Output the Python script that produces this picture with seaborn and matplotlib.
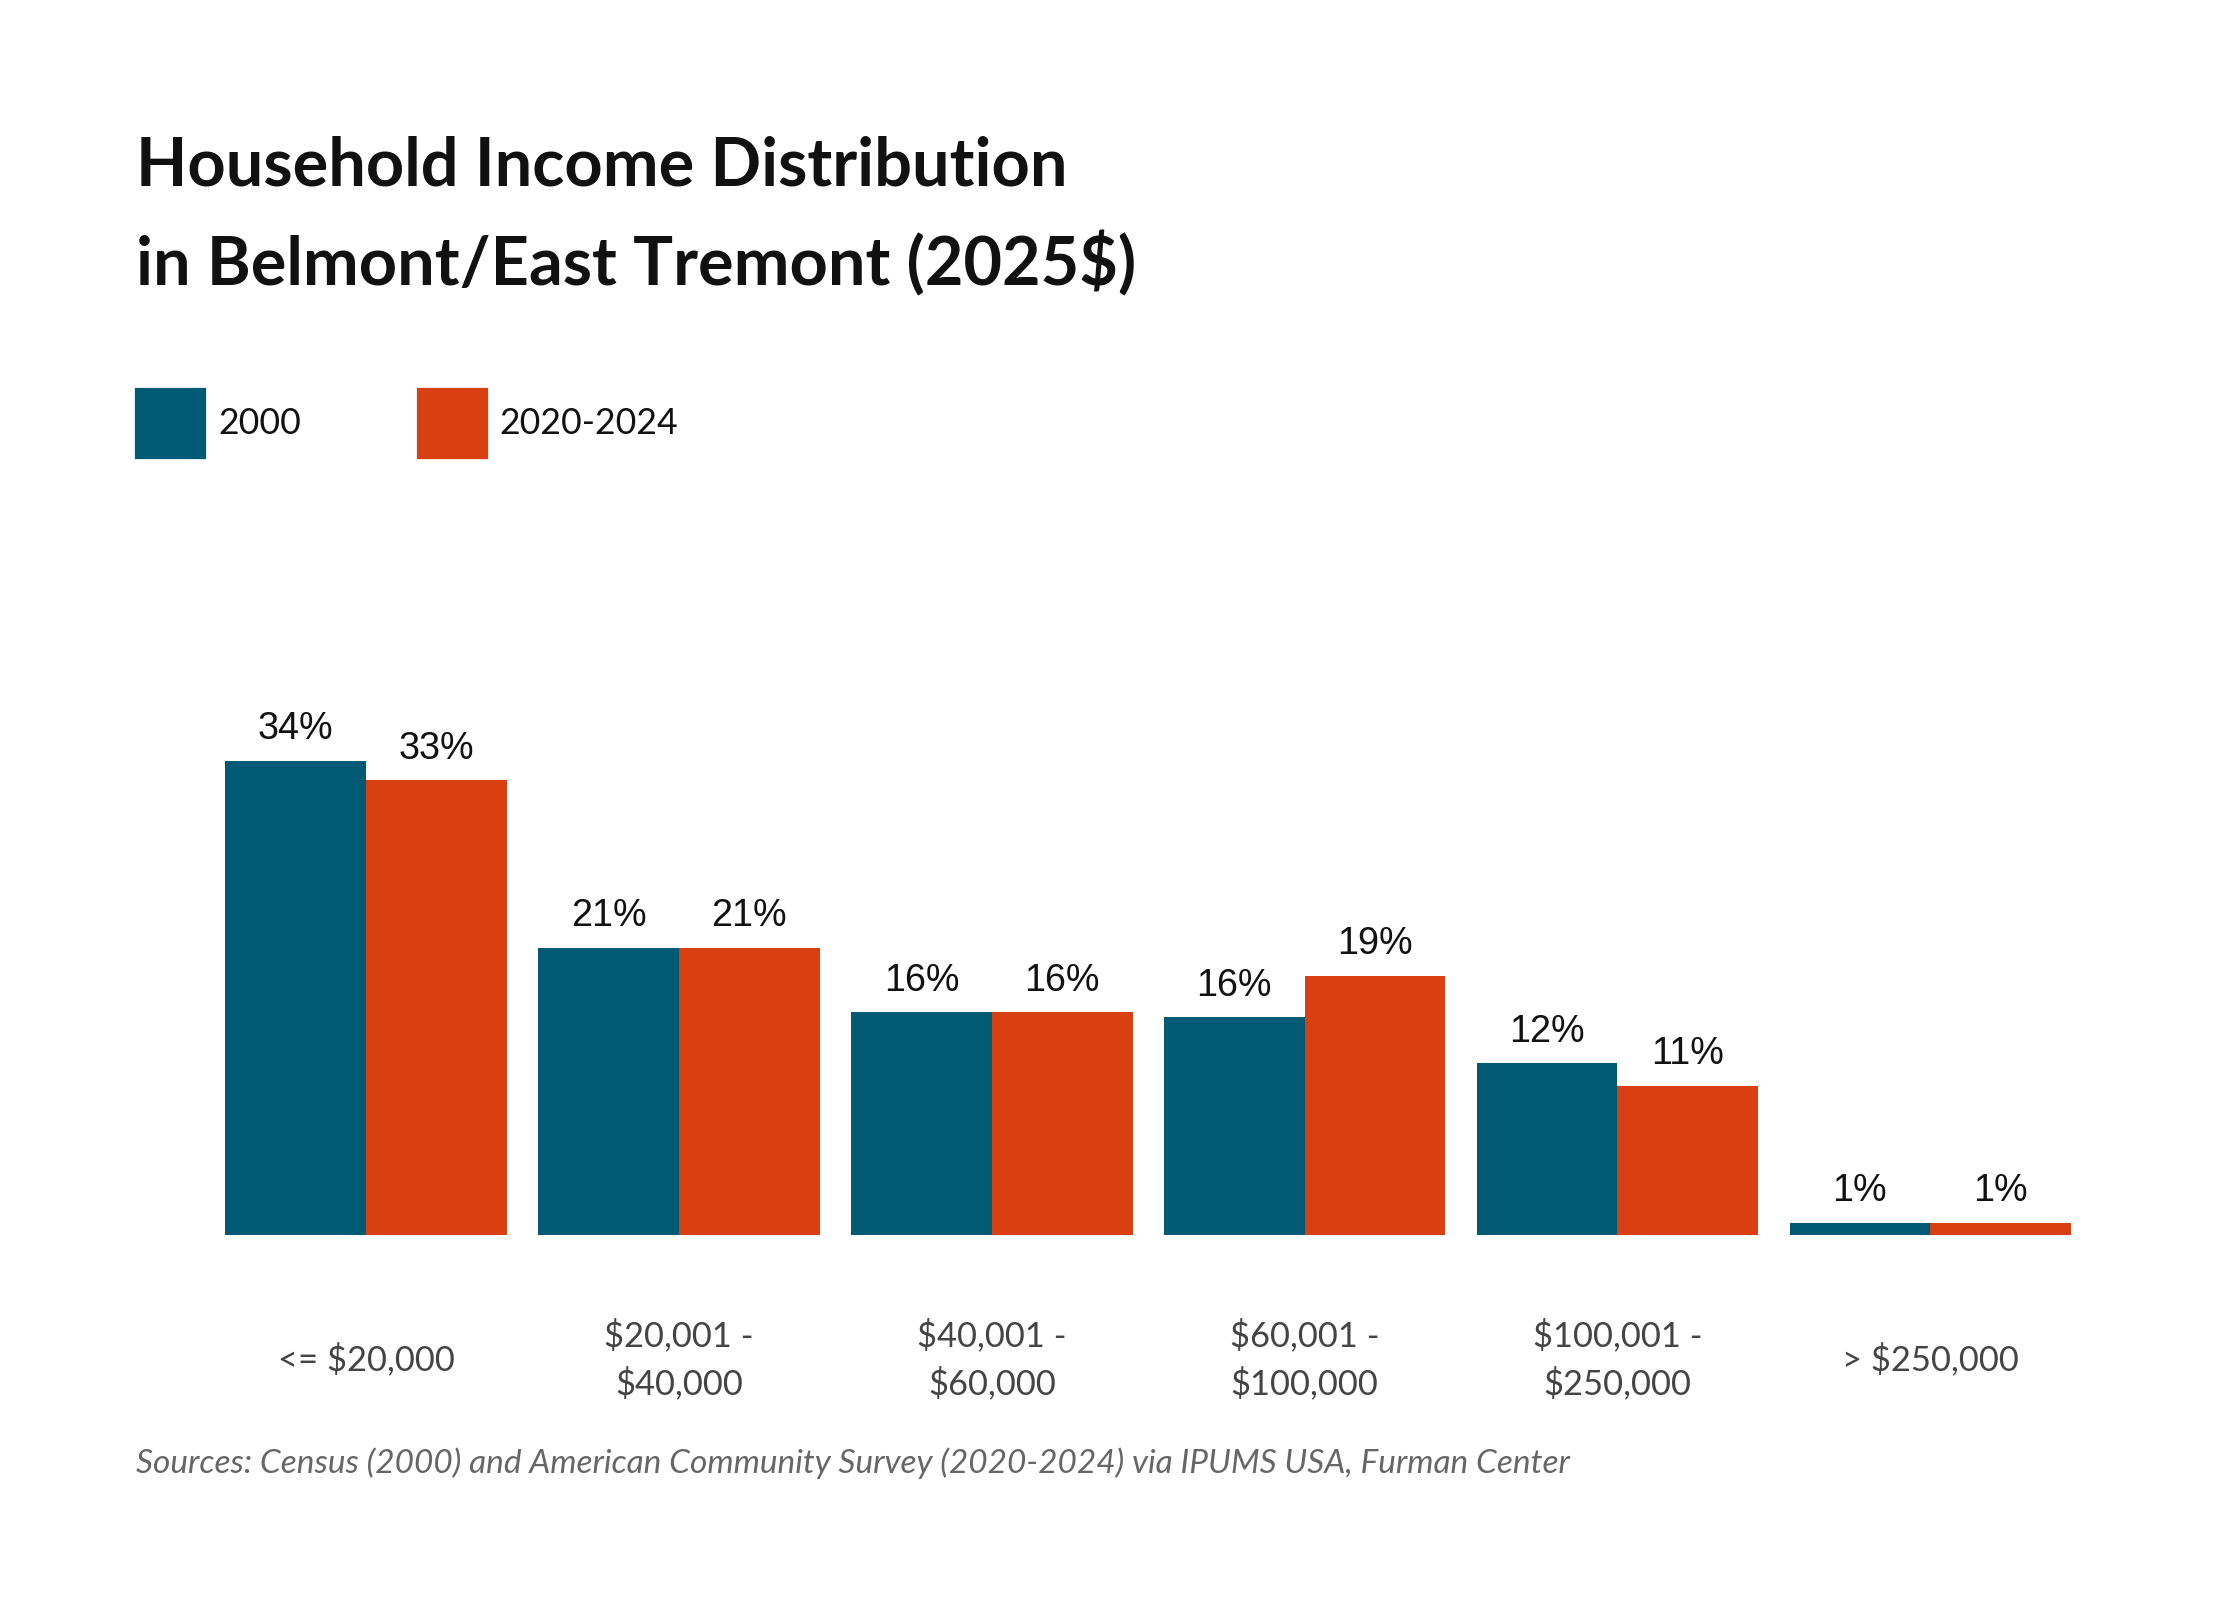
import matplotlib.pyplot as plt
import matplotlib.patches as mpatches
import seaborn as sns
import pandas as pd

# Data
categories = ['<= $20,000', '$20,001 -\n$40,000', '$40,001 -\n$60,000',
              '$60,001 -\n$100,000', '$100,001 -\n$250,000', '> $250,000']
years = ['2000', '2020-2024']
share_2000 = [34.0, 20.6, 16.0, 15.6, 12.3, 0.9]
share_2024 = [32.6, 20.6, 16.0, 18.6, 10.7, 0.9]
colors = ['#005a74', '#d84012']

df = pd.DataFrame({
    'cat': categories * 2,
    'year': [years[0]] * 6 + [years[1]] * 6,
    'share': share_2000 + share_2024,
})

sns.set_style('white')
plt.rcParams['font.family'] = ['Lato', 'DejaVu Sans']

fig = plt.figure(figsize=(14, 10), dpi=160)
ax = fig.add_axes([0.1006, 0.228, 0.824, 0.349])
sns.barplot(data=df, x='cat', y='share', hue='year', palette=colors,
            width=0.9, saturation=1, legend=False, linewidth=0, ax=ax)

for cont in ax.containers:
    for bar in cont:
        h = bar.get_height()
        ax.annotate(f'{round(h):.0f}%', (bar.get_x() + bar.get_width() / 2, h),
                    xytext=(0, 6), textcoords='offset points', ha='center', va='bottom',
                    fontsize=17, family='Liberation Sans', color='#111111')

ax.set_xlim(-0.45, 5.45)
ax.set_ylim(0, 40)
ax.set_yticks([])
ax.set_xlabel('')
ax.set_ylabel('')
for s in ax.spines.values():
    s.set_visible(False)
ax.tick_params(axis='x', length=0, pad=56, labelsize=15.5, labelcolor='#444444')
for lbl in ax.get_xticklabels():
    lbl.set_verticalalignment('center')
    lbl.set_linespacing(1.5)

fig.text(0.0609, 0.896, 'Household Income Distribution', fontsize=30,
         fontweight='bold', va='center', color='#111111')
fig.text(0.0609, 0.835, 'in Belmont/East Tremont (2025$)', fontsize=30,
         fontweight='bold', va='center', color='#111111')

for x0, xt, lab, c in [(0.0609, 0.0974, years[0], colors[0]),
                       (0.1865, 0.223, years[1], colors[1])]:
    fig.patches.append(mpatches.Rectangle((x0, 0.7135), 0.0308, 0.0432,
                                          transform=fig.transFigure, color=c))
    fig.text(xt, 0.735, lab, fontsize=16, va='center', color='#111111')

fig.text(0.0609, 0.0856,
         'Sources: Census (2000) and American Community Survey (2020-2024) via IPUMS USA, Furman Center',
         fontsize=15, style='italic', color='#666666', va='center')

fig.savefig('out.png', dpi=160, facecolor='white')
